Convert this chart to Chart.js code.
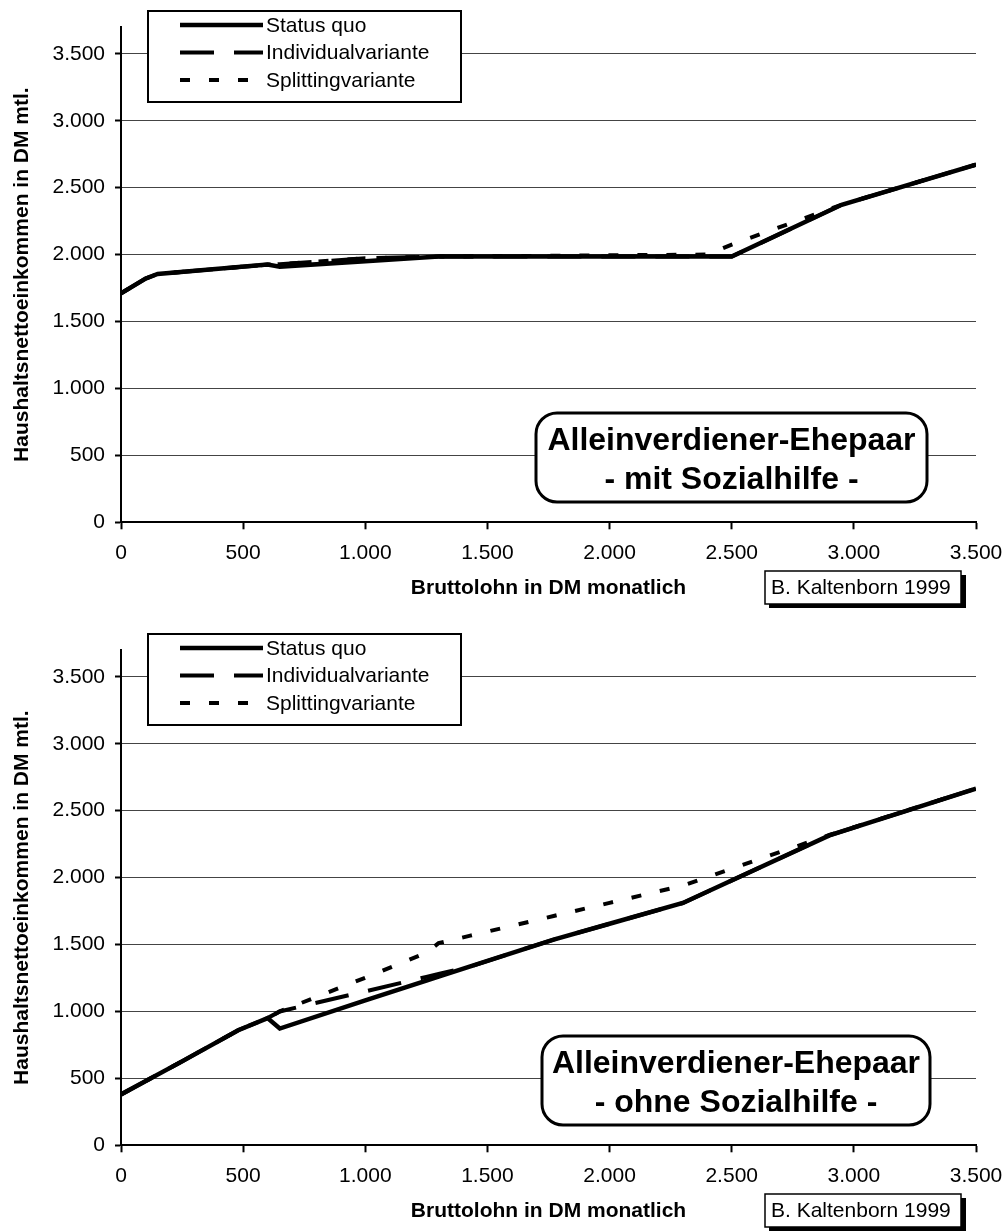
<!DOCTYPE html>
<html lang="de">
<head>
<meta charset="utf-8">
<script src="https://cdn.jsdelivr.net/npm/chart.js@4.4.1/dist/chart.umd.min.js"></script>
<style>
  html, body { margin: 0; padding: 0; background: #fff; overflow: hidden; }
  #wrap { position: relative; width: 1007px; height: 1231px; }
  canvas { position: absolute; left: 0; }
</style>
</head>
<body>
<div id="wrap">
  <canvas id="oben" width="1007" height="624" style="top:0px"></canvas>
  <canvas id="unten" width="1007" height="624" style="top:623px"></canvas>
</div>
<script>
// ----- Daten ---------------------------------------------------------------
const xTicks = [0, 500, 1000, 1500, 2000, 2500, 3000, 3500];
const yTicks = [0, 500, 1000, 1500, 2000, 2500, 3000, 3500];
const serien = ["Status quo", "Individualvariante", "Splittingvariante"];

// oben: mit Sozialhilfe
const lohnOben       = [0,    100,  150,  600,  650,  1000, 1300, 2400, 2500, 2950, 3500];
const statusQuoOben  = [1710, 1820, 1855, 1925, 1910, 1950, 1985, 1985, 1985, 2372, 2672];
const individOben    = [1710, 1820, 1855, 1925, 1928, 1972, 1985, 1985, 1985, 2372, 2672];
const splittingOben  = [1710, 1820, 1855, 1925, 1928, 1972, 1985, 2000, 2075, 2372, 2672];

// unten: ohne Sozialhilfe
const lohnUnten      = [0,   250, 480, 600, 650,  1000, 1250, 1300, 1430, 1771, 2000, 2300, 2900, 3500];
const statusQuoUnten = [380, 627, 860, 950, 872,  1083, 1230, 1260, 1336, 1537, 1655, 1810, 2315, 2665];
const individUnten   = [380, 627, 860, 950, 1000, 1150, 1258, 1280, 1336, 1537, 1655, 1810, 2315, 2665];
const splittingUnten = [380, 627, 860, 950, 1000, 1252, 1439, 1510, 1566, 1713, 1811, 1940, 2318, 2665];

// ---------------------------------------------------------------------------
const FONT = "'Liberation Sans', Arial, sans-serif";
Chart.defaults.font.family = FONT;
Chart.defaults.font.size = 21;
Chart.defaults.color = "#000";

const tausender = (v) => String(v).replace(/\B(?=(\d{3})+(?!\d))/g, ".");

function roundRect(ctx, x, y, w, h, r) {
  ctx.beginPath();
  ctx.moveTo(x + r, y);
  ctx.arcTo(x + w, y, x + w, y + h, r);
  ctx.arcTo(x + w, y + h, x, y + h, r);
  ctx.arcTo(x, y + h, x, y, r);
  ctx.arcTo(x, y, x + w, y, r);
  ctx.closePath();
}

// Legende, Beschriftungskasten und Quellenhinweis
const deko = {
  id: "deko",
  afterDraw(chart, args, opts) {
    const ctx = chart.ctx;
    ctx.save();

    // Legende
    ctx.fillStyle = "#fff";
    ctx.fillRect(148, 11, 313, 91);
    ctx.strokeStyle = "#000";
    ctx.lineWidth = 2;
    ctx.strokeRect(148, 11, 313, 91);
    const rows = [25, 52.5, 80];
    chart.data.datasets.forEach((ds, i) => {
      ctx.beginPath();
      ctx.setLineDash(ds.borderDash || []);
      ctx.lineWidth = ds.borderWidth;
      ctx.lineCap = "butt";
      ctx.moveTo(180, rows[i]);
      ctx.lineTo(263, rows[i]);
      ctx.stroke();
      ctx.setLineDash([]);
      ctx.fillStyle = "#000";
      ctx.font = "21px " + FONT;
      ctx.textBaseline = "middle";
      ctx.textAlign = "left";
      ctx.fillText(ds.label, 266, rows[i] + 1);
    });

    // Beschriftungskasten
    const b = opts.box;
    roundRect(ctx, b.x, 413, b.w, 89, 21);
    ctx.fillStyle = "#fff";
    ctx.fill();
    ctx.lineWidth = 3;
    ctx.strokeStyle = "#000";
    ctx.stroke();
    ctx.fillStyle = "#000";
    ctx.font = "bold 32px " + FONT;
    ctx.textAlign = "center";
    ctx.textBaseline = "alphabetic";
    ctx.fillText(opts.zeilen[0], b.x + b.w / 2, 450);
    ctx.fillText(opts.zeilen[1], b.x + b.w / 2, 489);

    // Quelle mit Schatten
    ctx.fillStyle = "#000";
    ctx.fillRect(769, 575, 197, 33);
    ctx.fillStyle = "#fff";
    ctx.fillRect(765, 571, 196, 33);
    ctx.lineWidth = 1.5;
    ctx.strokeRect(765, 571, 196, 33);
    ctx.fillStyle = "#000";
    ctx.font = "21px " + FONT;
    ctx.textAlign = "left";
    ctx.textBaseline = "middle";
    ctx.fillText("B. Kaltenborn 1999", 771, 588);

    ctx.restore();
  },
};

function punkte(xs, ys) {
  return xs.map((x, i) => ({ x, y: ys[i] }));
}

function zeichne(id, lohn, sq, ind, spl, zeilen, box) {
  new Chart(document.getElementById(id), {
    type: "line",
    data: {
      datasets: [
        { label: serien[0], data: punkte(lohn, sq), borderColor: "#000", borderWidth: 4.5 },
        { label: serien[1], data: punkte(lohn, ind), borderColor: "#000", borderWidth: 4, borderDash: [34, 20] },
        { label: serien[2], data: punkte(lohn, spl), borderColor: "#000", borderWidth: 4, borderDash: [10, 19] },
      ],
    },
    options: {
      responsive: false,
      animation: false,
      events: [],
      elements: {
        point: { radius: 0 },
        line: { tension: 0, fill: false, borderCapStyle: "butt", borderJoinStyle: "miter" },
      },
      layout: { padding: { top: 27, left: 10, right: 31, bottom: 23.4 } },
      scales: {
        x: {
          type: "linear",
          min: 0,
          max: 3500,
          afterBuildTicks: (s) => { s.ticks = xTicks.map((v) => ({ value: v })); },
          afterFit: (s) => { s.height = 78.3; s.paddingLeft = 0; s.paddingRight = 0; },
          border: { color: "#000", width: 2 },
          grid: { drawOnChartArea: false, drawTicks: true, tickLength: 7, tickColor: "#000", tickWidth: 2 },
          ticks: { padding: 11, maxRotation: 0, callback: (v) => tausender(v) },
          title: {
            display: true,
            text: "Bruttolohn in DM monatlich",
            font: { weight: "bold", size: 21 },
            padding: { top: 0, bottom: 0 },
          },
        },
        y: {
          type: "linear",
          min: 0,
          max: 3700,
          afterBuildTicks: (s) => { s.ticks = yTicks.map((v) => ({ value: v })); },
          afterFit: (s) => { s.width = 111; s.paddingTop = 0; s.paddingBottom = 0; },
          border: { color: "#000", width: 2 },
          grid: { color: "#444", lineWidth: 1, tickLength: 6, tickColor: "#000", tickWidth: 2 },
          ticks: { padding: 10, callback: (v) => tausender(v) },
          title: {
            display: true,
            text: "Haushaltsnettoeinkommen in DM mtl.",
            font: { weight: "bold", size: 21 },
            padding: { top: 0, bottom: 0 },
          },
        },
      },
      plugins: {
        legend: { display: false },
        tooltip: { enabled: false },
        deko: { zeilen, box },
      },
    },
    plugins: [deko],
  });
}

zeichne("oben", lohnOben, statusQuoOben, individOben, splittingOben,
  ["Alleinverdiener-Ehepaar", "- mit Sozialhilfe -"], { x: 536, w: 391 });
zeichne("unten", lohnUnten, statusQuoUnten, individUnten, splittingUnten,
  ["Alleinverdiener-Ehepaar", "- ohne Sozialhilfe -"], { x: 542, w: 388 });
</script>
</body>
</html>
